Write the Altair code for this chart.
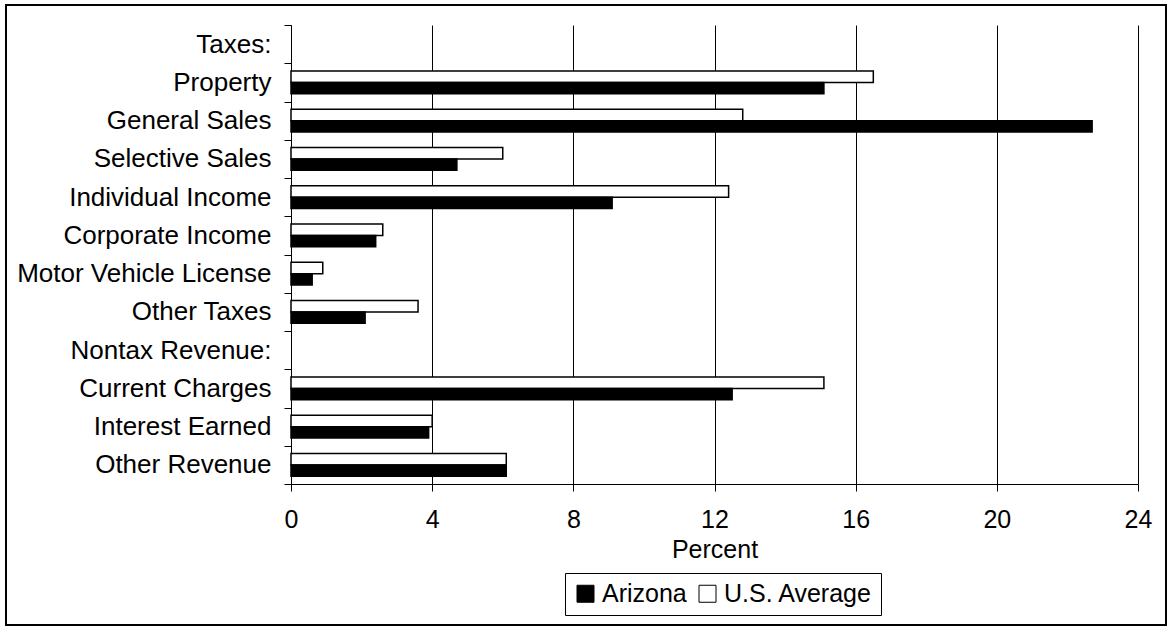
import altair as alt
import pandas as pd

# Row labels, top to bottom (section headers have no bars)
categories = [
    "Taxes:", "Property", "General Sales", "Selective Sales",
    "Individual Income", "Corporate Income", "Motor Vehicle License",
    "Other Taxes", "Nontax Revenue:", "Current Charges",
    "Interest Earned", "Other Revenue",
]
items = [
    "Property", "General Sales", "Selective Sales", "Individual Income",
    "Corporate Income", "Motor Vehicle License", "Other Taxes",
    "Current Charges", "Interest Earned", "Other Revenue",
]
arizona = [15.1, 22.7, 4.7, 9.1, 2.4, 0.6, 2.1, 12.5, 3.9, 6.1]
us_average = [16.5, 12.8, 6.0, 12.4, 2.6, 0.9, 3.6, 15.1, 4.0, 6.1]
series = ["Arizona", "U.S. Average"]
x_ticks = [0, 4, 8, 12, 16, 20, 24]

rows = []
for item, az, us in zip(items, arizona, us_average):
    rows.append({"item": item, "series": "U.S. Average", "pct": us})
    rows.append({"item": item, "series": "Arizona", "pct": az})
df = pd.DataFrame(rows)

FONT = "Liberation Sans"
FS = 25
W, H = 847, 459

bars = alt.Chart(df).mark_bar(stroke="black", strokeWidth=1.5).encode(
    x=alt.X(
        "pct:Q",
        scale=alt.Scale(domain=[0, 24], nice=False),
        axis=alt.Axis(
            values=x_ticks, title="Percent", grid=True, gridColor="black",
            gridOpacity=1, gridWidth=1, domainColor="black", tickColor="black",
            tickSize=7, labelFontSize=FS, labelFont=FONT, labelColor="black",
            labelPadding=16, titleFontSize=FS, titleFont=FONT,
            titleFontWeight="normal", titleColor="black", titlePadding=5,
            labelFlush=False,
        ),
    ),
    y=alt.Y(
        "item:N",
        scale=alt.Scale(domain=categories, paddingInner=0, paddingOuter=0),
        axis=alt.Axis(
            title=None, tickBand="extent", tickSize=7, tickColor="black",
            domainColor="black", labelFontSize=26, labelFont=FONT,
            labelColor="black", labelPadding=13, labelLimit=0, grid=False,
        ),
    ),
    yOffset=alt.YOffset(
        "series:N",
        sort=["U.S. Average", "Arizona"],
        scale=alt.Scale(paddingInner=0, paddingOuter=0.69),
    ),
    color=alt.Color(
        "series:N",
        scale=alt.Scale(domain=series, range=["black", "white"]),
        legend=alt.Legend(
            title=None, orient="none", legendX=274, legendY=548,
            direction="horizontal", symbolType="square", symbolSize=289,
            symbolStrokeColor="black", symbolStrokeWidth=1,
            labelFontSize=FS, labelFont=FONT, labelColor="black",
            labelOffset=4, columnPadding=8, padding=8,
            strokeColor="black",
        ),
    ),
)

# Outer frame around the whole figure
frame = alt.Chart(pd.DataFrame({"k": [0]})).mark_rect(
    fill=None, stroke="black", strokeWidth=2
).encode(
    x=alt.value(-285), x2=alt.value(875),
    y=alt.value(-20), y2=alt.value(600),
)

chart = alt.layer(bars, frame).properties(
    width=W, height=H,
    autosize=alt.AutoSizeParams(type="none"),
    padding={"left": 291, "top": 25, "right": 29, "bottom": 143},
    background="white",
).configure_view(stroke=None)

chart.save("out.html", embed_options={"renderer": "svg", "actions": False})
